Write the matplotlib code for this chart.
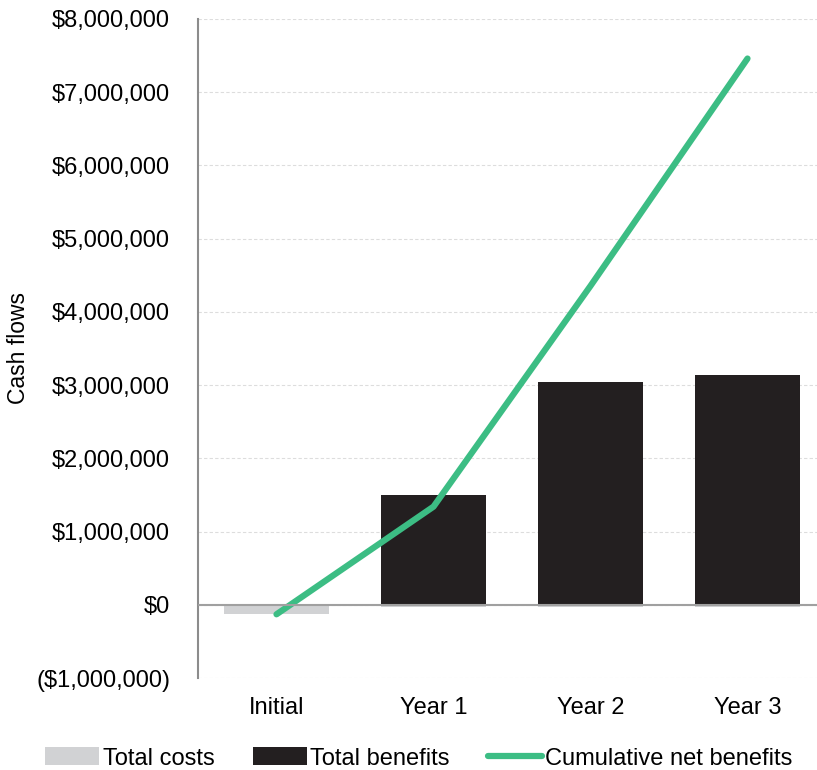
import matplotlib
matplotlib.use("Agg")
import matplotlib.pyplot as plt
from matplotlib.ticker import FuncFormatter
from matplotlib.patches import Patch
from matplotlib.lines import Line2D

categories = ["Initial", "Year 1", "Year 2", "Year 3"]
total_costs = [-130000, -30000, -30000, -30000]
total_benefits = [0, 1500000, 3045000, 3135000]
cumulative_net = [-130000, 1340000, 4355000, 7460000]

plt.rcParams['font.family'] = ['Liberation Sans', 'DejaVu Sans']

W, H = 817, 770
fig = plt.figure(figsize=(W / 100, H / 100), dpi=100)
left, right, top, bottom = 198, 826, 19, 678
ax = fig.add_axes([left / W, 1 - bottom / H, (right - left) / W, (bottom - top) / H])

x = list(range(len(categories)))
bw = 0.67
ax.bar(x, total_costs, width=bw, color="#D1D2D4", zorder=2)
ax.bar(x, total_benefits, width=bw, color="#231F20", zorder=3)
ax.plot(x, cumulative_net, color="#3CBD84", linewidth=4.5, solid_capstyle="round", zorder=4)

ax.set_xlim(-0.5, 3.5)
ax.set_ylim(-1000000, 8000000)
ax.set_yticks(range(-1000000, 8000001, 1000000))

def fmt(v, pos):
    v = int(round(v))
    if v < 0:
        return "(${:,})".format(-v)
    return "${:,}".format(v)

FS = 17
ax.yaxis.set_major_formatter(FuncFormatter(fmt))
ax.set_xticks(x)
ax.set_xticklabels(categories)
ax.tick_params(axis="both", length=0, labelsize=FS, colors="black")
ax.tick_params(axis="y", pad=20)
ax.tick_params(axis="x", pad=14)

ax.grid(axis="y", color="#DDDDDD", linestyle=(0, (3, 2)), linewidth=0.8, zorder=0)
ax.axhline(0, color="#A0A0A0", linewidth=1.5, zorder=5)

for s in ["top", "right", "bottom"]:
    ax.spines[s].set_visible(False)
ax.spines["left"].set_color("#8C8C8C")
ax.spines["left"].set_linewidth(1.5)

fig.text(19 / W, 1 - 348 / H, "Cash flows", rotation=90, ha="center", va="center", fontsize=FS - 0.5)

handles = [
    Patch(facecolor="#D1D2D4", edgecolor="none"),
    Patch(facecolor="#231F20", edgecolor="none"),
    Line2D([0], [0], color="#3CBD84", linewidth=4.5, solid_capstyle="round"),
]
labels = ["Total costs", "Total benefits", "Cumulative net benefits"]
fig.legend(handles, labels, loc="lower center", bbox_to_anchor=(419 / W, -0.027), ncol=3,
           frameon=False, fontsize=FS, handlelength=2.3, handleheight=0.8,
           handletextpad=0.15, columnspacing=1.6)

fig.savefig("out.png", dpi=100)
